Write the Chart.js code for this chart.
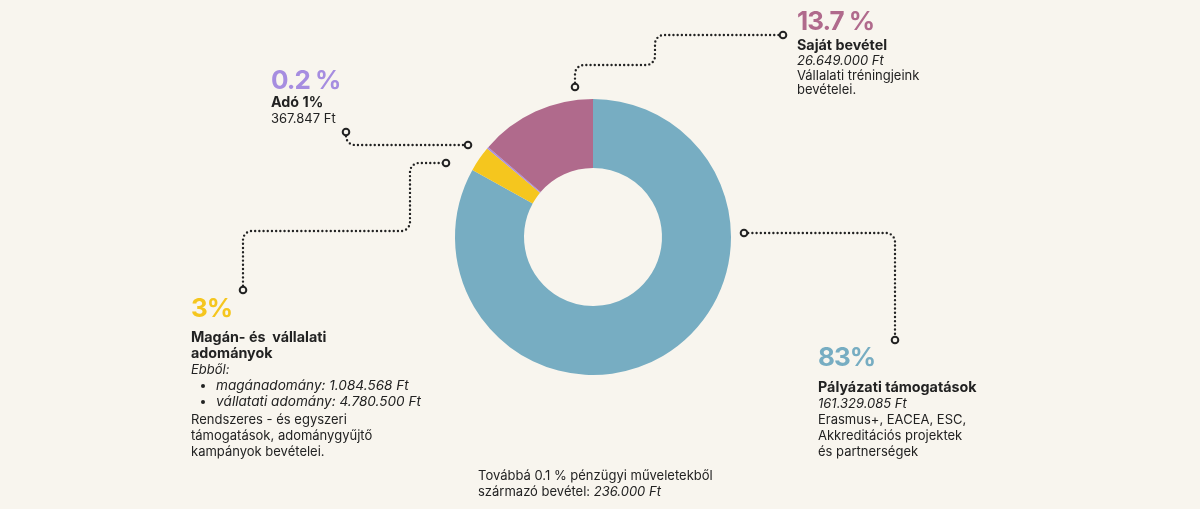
<!DOCTYPE html>
<html>
<head>
<meta charset="utf-8">
<script src="https://cdn.jsdelivr.net/npm/chart.js@4.4.0/dist/chart.umd.min.js"></script>
<style>
  html, body { margin: 0; padding: 0; background: #f8f5ee; }
  #wrap { position: relative; width: 1200px; height: 509px; overflow: hidden; font-family: "Inter", sans-serif; color: #222; }
  #myChart { position: absolute; left: 0; top: 0; }
  .blk { position: absolute; font-size: 13px; line-height: 16px; white-space: nowrap; }
  .pct { font-size: 26px; font-weight: 700; line-height: 28px; letter-spacing: -1px; }
  .ttl { font-weight: 700; font-size: 14.3px; }
  .it { font-style: italic; }
  ul { margin: 0; padding: 0 0 0 25px; }
  li { margin: 0; padding-left: 0; font-size: 13.6px; }
</style>
</head>
<body>
<div id="wrap">
  <canvas id="myChart" width="1200" height="509"></canvas>

  <div class="blk" style="left:271px; top:66px;">
    <div class="pct" style="color:#a68de0;">0.2 %</div>
    <div class="ttl">Adó 1%</div>
    <div>367.847 Ft</div>
  </div>

  <div class="blk" style="left:797px; top:7px; line-height:14.6px;">
    <div class="pct" style="color:#b06a8c; margin-bottom:2px;">13.7 %</div>
    <div class="ttl" style="line-height:16px;">Saját bevétel</div>
    <div class="it">26.649.000 Ft</div>
    <div>Vállalati tréningjeink</div>
    <div>bevételei.</div>
  </div>

  <div class="blk" style="left:191px; top:294px;">
    <div class="pct" style="color:#f5c61e; margin-bottom:7px;">3%</div>
    <div class="ttl">Magán- és&nbsp; vállalati</div>
    <div class="ttl">adományok</div>
    <div class="it">Ebből:</div>
    <ul class="it">
      <li>magánadomány: 1.084.568 Ft</li>
      <li>vállatati adomány: 4.780.500 Ft</li>
    </ul>
    <div style="margin-top:2px;">Rendszeres - és egyszeri</div>
    <div>támogatások, adománygyűjtő</div>
    <div>kampányok bevételei.</div>
  </div>

  <div class="blk" style="left:818px; top:343px;">
    <div class="pct" style="color:#77adc2; margin-bottom:8px;">83%</div>
    <div class="ttl">Pályázati támogatások</div>
    <div class="it">161.329.085 Ft</div>
    <div>Erasmus+, EACEA, ESC,</div>
    <div>Akkreditációs projektek</div>
    <div>és partnerségek</div>
  </div>

  <div class="blk" style="left:478px; top:467px;">
    <div>Továbbá 0.1 % pénzügyi műveletekből</div>
    <div>származó bevétel: <span class="it">236.000 Ft</span></div>
  </div>
</div>

<script>
// data
const labels = ["Pályázati támogatások", "Magán- és vállalati adományok", "Adó 1%", "Saját bevétel"];
const shares = [83, 3, 0.2, 13.7];
const colors = ["#77adc2", "#f5c61e", "#a68de0", "#b06a8c"];

// connector paths, given relative to the donut centre (cx, cy) in pixels
// each is a list of points; corners get rounded
const connectors = [
  // blue
  [[151, -4], [302, -4], [302, 103]],
  // yellow
  [[-350, 53], [-350, -6], [-183, -6], [-183, -74], [-147, -74]],
  // adó
  [[-247, -105], [-247, -92], [-125, -92]],
  // pink
  [[-18, -150], [-18, -172], [62, -172], [62, -202], [190, -202]],
];

const connectorPlugin = {
  id: "connectors",
  afterDraw(chart) {
    const arc = chart.getDatasetMeta(0).data[0];
    const cx = arc.x, cy = arc.y;
    const ctx = chart.ctx;
    ctx.save();
    ctx.strokeStyle = "#222";
    ctx.lineCap = "round";
    connectors.forEach((pts) => {
      const p = pts.map(([x, y]) => [cx + x, cy + y]);
      ctx.lineWidth = 2.4;
      ctx.setLineDash([0, 4.2]);
      ctx.beginPath();
      ctx.moveTo(p[0][0], p[0][1]);
      for (let i = 1; i < p.length - 1; i++) {
        ctx.arcTo(p[i][0], p[i][1], p[i + 1][0], p[i + 1][1], 9);
      }
      ctx.lineTo(p[p.length - 1][0], p[p.length - 1][1]);
      ctx.stroke();
      // end rings
      ctx.setLineDash([]);
      ctx.lineWidth = 2;
      [p[0], p[p.length - 1]].forEach(([x, y]) => {
        ctx.beginPath();
        ctx.arc(x, y, 3.3, 0, Math.PI * 2);
        ctx.fillStyle = "#f8f5ee";
        ctx.fill();
        ctx.stroke();
      });
    });
    ctx.restore();
  },
};

const config = {
  type: "doughnut",
  data: {
    labels: labels,
    datasets: [
      {
        data: shares,
        backgroundColor: colors,
        borderWidth: 0,
      },
    ],
  },
  options: {
    responsive: false,
    animation: false,
    cutout: "50%",
    layout: { padding: { left: 455, right: 469, top: 99, bottom: 134 } },
    plugins: {
      legend: { display: false },
      tooltip: { enabled: false },
    },
  },
  plugins: [connectorPlugin],
};

const myChart = new Chart(document.getElementById("myChart"), config);
</script>
</body>
</html>
